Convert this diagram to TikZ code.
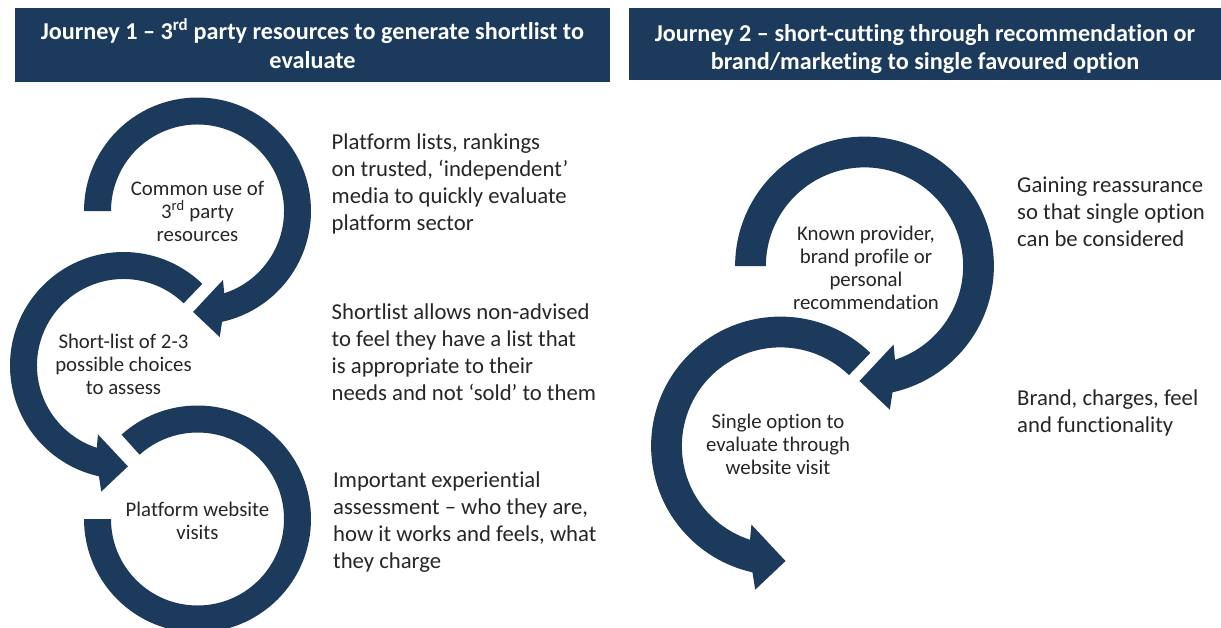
\documentclass[tikz,border=0pt]{standalone}
\usepackage{fontspec}
\setmainfont{Carlito}[Ligatures={TeX,NoCommon}]
\definecolor{navy}{HTML}{1B3A5C}
\definecolor{ink}{HTML}{262626}
\tikzstyle{every picture}+=[x=1pt, y=-1pt]
\tikzstyle{ring}=[fill=navy]
\tikzstyle{banner}=[fill=navy]
\tikzstyle{title}=[text=white, font=\fontsize{24.2}{28.5}\selectfont\bfseries, align=center, anchor=base, inner sep=0pt]
\tikzstyle{hub}=[text=ink, font=\fontsize{20.8}{23}\selectfont, align=center, anchor=base, inner sep=0pt]
\tikzstyle{note}=[text=ink, font=\fontsize{22.7}{26.7}\selectfont, align=left, anchor=base west, inner sep=0pt]

\begin{document}
\begin{tikzpicture}
	\newcommand\ringarrow[2]{
		\begin{scope}[#1, yscale=-1]
			\fill[ring] (#2:113.5) arc[start angle=#2, end angle=-77.5, radius=113.5]
				-- (-80:128) -- (-92.5:101) -- (-69.7:73.5) -- (-72:86.5)
				arc[start angle=-72, end angle=#2, radius=86.5] -- cycle ;
		\end{scope}
	}
	\clip (0,0) rectangle (1221,627) ;
	\fill[white] (0,0) rectangle (1221,627) ;

	\fill[banner] (15,8) rectangle (610,81.5) ;
	\fill[banner] (629,8) rectangle (1221,79.5) ;
	\node[title] (journeyA) at (312.5,68) {Journey 1 -- 3\textsuperscript{rd} party resources to generate shortlist to\\evaluate} ;
	\node[title] (journeyB) at (925,69.5) {Journey 2 -- short-cutting through recommendation or\\brand/marketing to single favoured option} ;

	\ringarrow{shift={(197.5,211)}}{180}
	\ringarrow{shift={(123.5,365.5)}, xscale=-1}{134}
	\begin{scope}[shift={(197.5,519)}, yscale=-1]
		\fill[ring] (132:113.5) arc[start angle=132, end angle=-180, radius=113.5]
			-- (-180:86.5) arc[start angle=-180, end angle=132, radius=86.5] -- cycle ;
	\end{scope}
	\ringarrow{shift={(864.5,266)}, scale=1.14}{180}
	\ringarrow{shift={(780.5,446)}, scale=1.14, xscale=-1}{134}

	\node[hub] (common) at (197.5,241) {Common use of\\3\textsuperscript{rd} party\\resources} ;
	\node[hub] (shortlist) at (123.5,394) {Short-list of 2-3\\possible choices\\to assess} ;
	\node[hub] (visits) at (197.5,539) {Platform website\\visits} ;
	\node[hub] (known) at (866,309) {Known provider,\\brand profile or\\personal\\recommendation} ;
	\node[hub] (single) at (778,474) {Single option to\\evaluate through\\website visit} ;

	\node[note] (rankings) at (331.5,230) {Platform lists, rankings\\on trusted, `independent'\\media to quickly evaluate\\platform sector} ;
	\node[note] (allows) at (331.5,400) {Shortlist allows non-advised\\to feel they have a list that\\is appropriate to their\\needs and not `sold' to them} ;
	\node[note] (experience) at (333,568) {Important experiential\\assessment -- who they are,\\how it works and feels, what\\they charge} ;
	\node[note] (reassure) at (1017,246) {Gaining reassurance\\so that single option\\can be considered} ;
	\node[note] (brand) at (1017,432) {Brand, charges, feel\\and functionality} ;
\end{tikzpicture}
\end{document}
